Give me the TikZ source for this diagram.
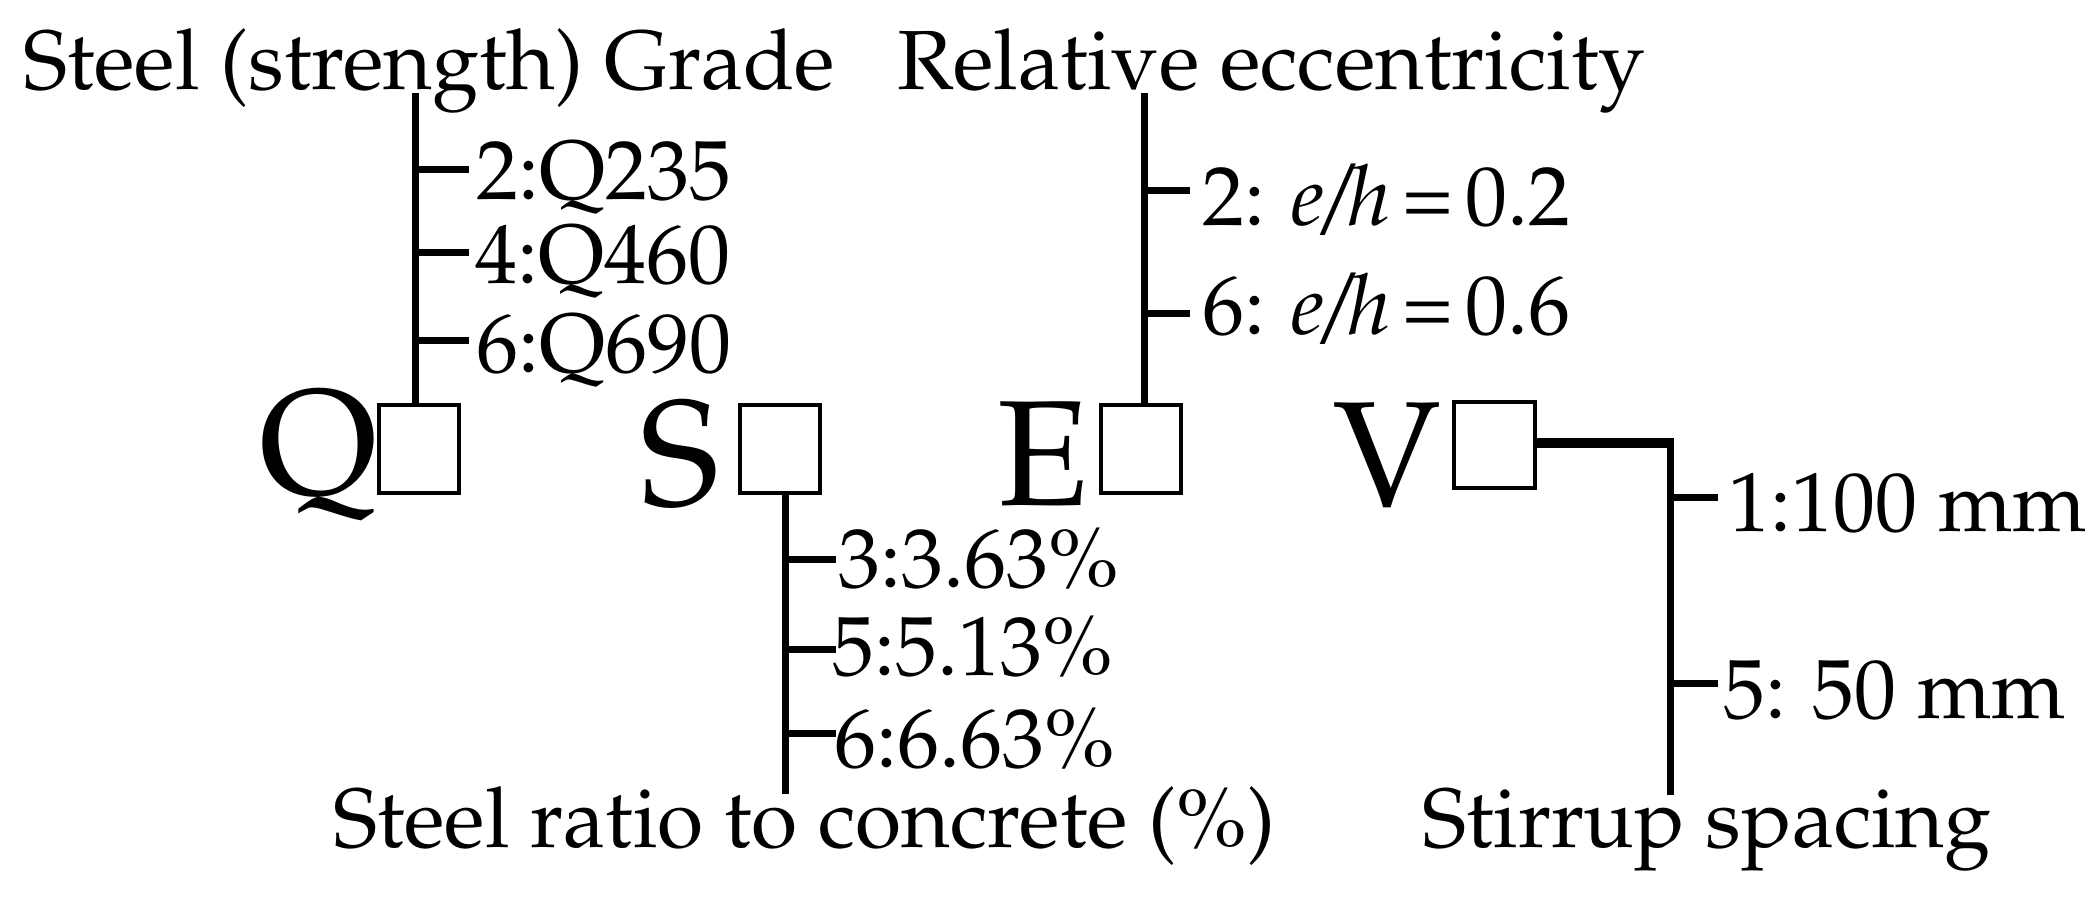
\documentclass[tikz,border=0pt]{standalone}
\usepackage[T1]{fontenc}
\usepackage{mathpazo}
\begin{document}
\tikzset{
  lbl/.style={anchor=base west, inner sep=0pt, font=\fontsize{84bp}{100bp}\selectfont},
  big/.style={anchor=base west, inner sep=0pt, font=\fontsize{150bp}{180bp}\selectfont},
  cbox/.style={draw, line width=4bp, minimum width=80bp, minimum height=88bp, inner sep=0pt},
  ln/.style={line width=7bp},
  thk/.style={line width=10bp},
}
\begin{tikzpicture}[x=1bp,y=-1bp]
\useasboundingbox (0,0) rectangle (2095,899);
% titles
\node[lbl] (tq) at (23,89) {Steel (strength) Grade};
\node[lbl] (te) at (897,89) {Relative eccentricity};
\node[lbl] (ts) at (333,847) {Steel ratio to concrete (\%)};
\node[lbl] (tv) at (1422,847) {Stirrup spacing};
% big letters and boxes
\node[big] (Q) at (259,494) {Q};
\node[cbox] (qb) at (419,449) {};
\node[big] (S) at (640,505) {S};
\node[cbox] (sb) at (780,449) {};
\node[big] (E) at (997,505) {E};
\node[cbox] (eb) at (1140.5,449) {};
\node[big] (V) at (1333,506) {V};
\node[cbox, minimum width=81bp, minimum height=86bp] (vb) at (1494.5,445) {};
% Q branch
\coordinate (qtop) at (415,93);
\draw[ln] (qtop) -- (qtop |- qb.north);
\node[lbl] (q1) at (476,199) {2:Q235};
\node[lbl] (q2) at (475,283) {4:Q460};
\node[lbl] (q3) at (476,372) {6:Q690};
\coordinate (qk1) at (415,169);
\coordinate (qk2) at (415,252);
\coordinate (qk3) at (415,340);
\draw[ln] (qk1) -- ++(54,0);
\draw[ln] (qk2) -- ++(54,0);
\draw[ln] (qk3) -- ++(54,0);
% S branch
\coordinate (sbot) at (785,794);
\draw[ln] (sbot |- sb.south) -- (sbot);
\node[lbl] (s1) at (838,587) {3:3.63\%};
\node[lbl] (s2) at (832,675) {5:5.13\%};
\node[lbl] (s3) at (834,767) {6:6.63\%};
\coordinate (sk1) at (785,559);
\coordinate (sk2) at (785,649);
\coordinate (sk3) at (785,733);
\draw[ln] (sk1) -- ++(51,0);
\draw[ln] (sk2) -- ++(51,0);
\draw[ln] (sk3) -- ++(51,0);
% E branch
\coordinate (etop) at (1144,93);
\draw[ln] (etop) -- (etop |- eb.north);
\node[lbl] (e1) at (1202,225) {2: \textit{e/h}\hspace{0.14em}=\hspace{0.14em}0.2};
\node[lbl] (e2) at (1202,334) {6: \textit{e/h}\hspace{0.14em}=\hspace{0.14em}0.6};
\coordinate (ek1) at (1144,190);
\coordinate (ek2) at (1144,313);
\draw[ln] (ek1) -- ++(46,0);
\draw[ln] (ek2) -- ++(46,0);
% V branch
\coordinate (vc) at (1670,443);
\coordinate (vbot) at (1670,795);
\draw[thk] (vb.east |- vc) -- ([xshift=3.5bp]vc);
\draw[ln] ([yshift=-5bp]vc) -- (vbot);
\node[lbl] (v1) at (1728,531) {1:100 mm};
\node[lbl] (v2) at (1723,718) {5: 50 mm};
\coordinate (vk1) at (1670,497);
\coordinate (vk2) at (1670,683);
\draw[ln] (vk1) -- ++(48,0);
\draw[ln] (vk2) -- ++(48,0);
\end{tikzpicture}
\end{document}
